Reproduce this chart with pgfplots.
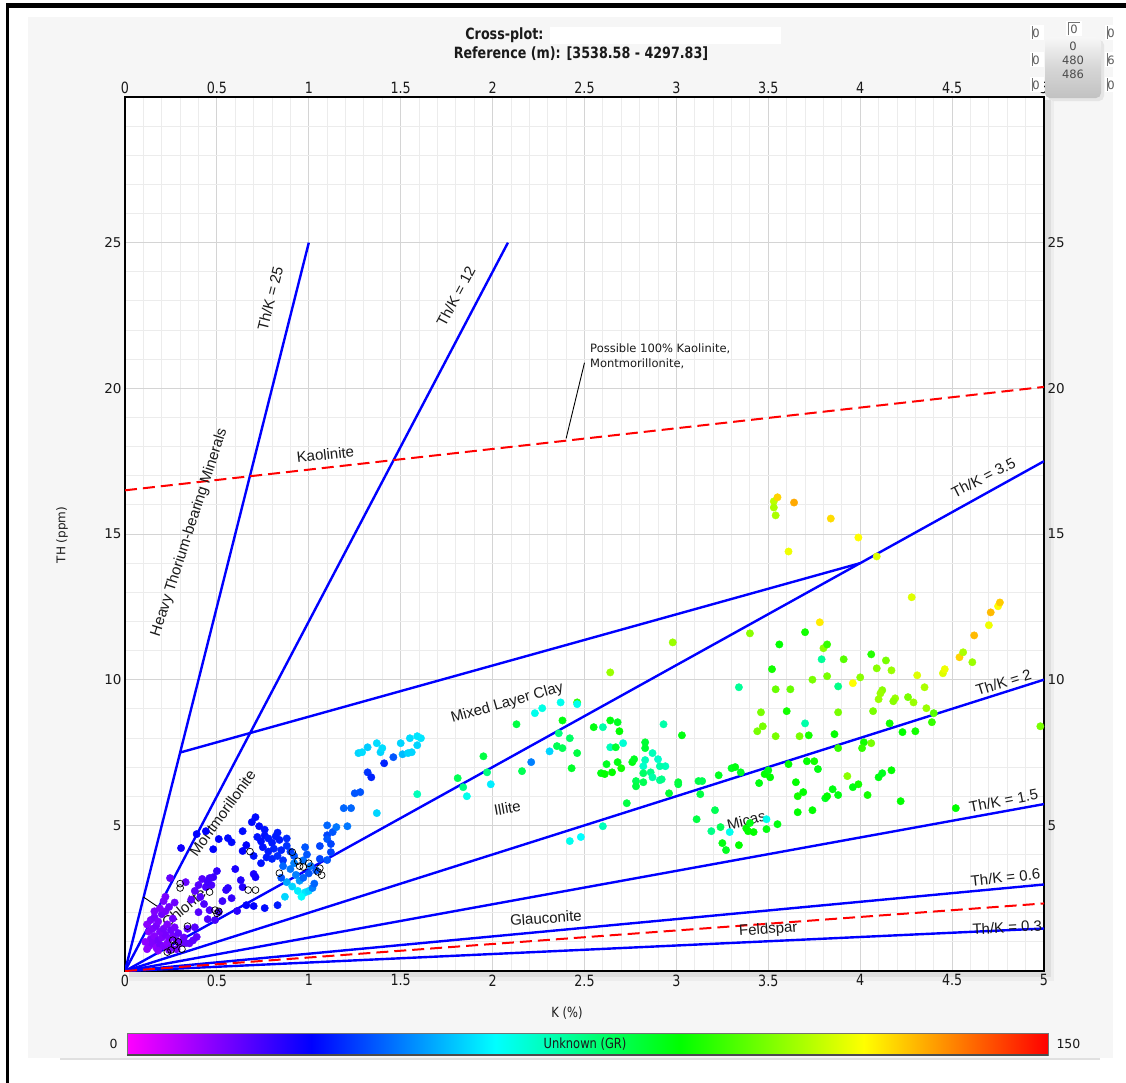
\documentclass[border=0pt]{standalone}
\usepackage{pgfplots}
\usepackage{pgfplotstable}
\pgfplotsset{compat=1.18}
\usepackage{fontspec}
\setmainfont{Liberation Sans}
\newfontfamily\djv{DejaVu Sans}
\newfontfamily\djvc[FakeStretch=0.82]{DejaVu Sans}

\definecolor{panel}{HTML}{F6F6F6}
\definecolor{gmaj}{HTML}{D4D4D4}
\definecolor{gmin}{HTML}{ECECEC}
\definecolor{lineblue}{HTML}{0000FF}
\definecolor{linered}{HTML}{FF0000}
\definecolor{txt}{HTML}{1A1A1A}
\definecolor{grm}{RGB}{255,0,255}
\definecolor{grb}{RGB}{0,0,255}
\definecolor{grc}{RGB}{0,255,255}
\definecolor{grg}{RGB}{0,255,0}
\definecolor{gry}{RGB}{255,255,0}
\definecolor{grr}{RGB}{255,0,0}

% GR colour scale, 0 -> 150 API
\pgfdeclarehorizontalshading{grbar}{100bp}{color(0bp)=(grm); color(25bp)=(grm);
  color(35bp)=(grb); color(45bp)=(grc); color(55bp)=(grg); color(65bp)=(gry);
  color(75bp)=(grr); color(100bp)=(grr)}

% K (%), Th (ppm), GR (API)
\pgfplotstableread{
k th gr
0.13 0.85 14
0.15 0.95 15
0.17 0.80 13
0.19 0.90 16
0.21 0.85 15
0.23 0.95 14
0.25 0.80 16
0.14 1.10 15
0.16 1.20 14
0.18 1.05 16
0.20 1.15 15
0.22 1.25 16
0.24 1.10 15
0.26 1.20 16
0.28 1.05 17
0.13 1.35 14
0.15 1.45 15
0.17 1.55 16
0.19 1.35 15
0.21 1.45 16
0.23 1.60 15
0.25 1.40 17
0.27 1.50 16
0.12 1.60 14
0.14 1.75 15
0.16 1.85 16
0.18 1.70 15
0.20 1.95 17
0.22 2.05 16
0.24 2.20 17
0.21 2.40 16
0.19 2.15 15
0.26 1.80 17
0.29 1.30 18
0.30 0.95 17
0.32 1.15 18
0.34 1.45 19
0.35 0.95 18
0.37 1.05 19
0.38 1.50 20
0.39 1.17 19
0.33 0.96 18
0.11 1.00 13
0.12 0.75 13
0.28 0.75 16
0.18 0.70 14
0.24 0.72 15
0.16 2.05 15
0.22 2.55 16
0.27 2.35 17
0.245 3.19 18
0.40 2.95 20
0.42 3.16 20
0.44 2.88 21
0.47 2.95 21
0.45 3.05 22
0.50 3.43 24
0.48 3.22 23
0.46 3.19 22
0.55 2.78 24
0.56 2.85 25
0.63 3.12 26
0.64 2.88 26
0.41 2.54 20
0.40 2.02 20
0.46 2.09 21
0.51 2.02 22
0.61 2.06 25
0.45 1.78 21
0.49 1.75 22
0.38 2.75 19
0.33 3.05 18
0.36 2.45 19
0.43 2.30 21
0.53 2.40 23
0.58 2.50 24
0.60 3.50 27
0.70 3.33 27
0.71 3.22 28
0.66 2.26 30
0.70 2.23 30
0.76 2.16 31
0.83 2.26 33
0.305 4.22 28
0.39 4.70 30
0.44 4.80 30
0.48 4.18 30
0.51 4.53 30
0.56 4.56 31
0.58 4.42 31
0.64 4.80 31
0.71 5.28 31
0.69 5.11 31
0.73 4.97 31
0.66 4.32 30
0.64 4.12 30
0.72 4.60 32
0.74 4.45 32
0.76 4.65 32
0.78 4.55 33
0.80 4.40 33
0.82 4.62 33
0.84 4.50 33
0.75 4.25 32
0.78 4.10 33
0.81 4.20 34
0.85 4.15 34
0.77 3.90 33
0.80 3.85 34
0.83 3.95 35
0.86 3.80 36
0.88 4.30 36
0.90 4.10 37
0.74 3.70 32
0.88 4.55 35
0.92 3.95 40
0.70 3.95 32
0.76 4.85 32
0.83 4.75 33
0.86 3.60 42
0.90 3.50 44
0.93 3.30 45
0.95 3.10 48
0.88 3.05 50
0.91 2.90 55
0.94 2.75 58
0.98 2.70 57
1.00 2.75 55
1.02 2.85 45
1.03 3.00 42
0.97 3.20 42
1.00 3.35 40
0.87 2.55 55
0.96 2.55 60
0.85 3.20 40
0.92 3.70 45
0.97 3.80 43
1.01 3.60 44
1.04 3.45 40
1.06 3.85 38
0.99 4.00 40
0.98 4.25 40
1.06 4.29 38
1.10 3.81 40
1.12 4.08 38
1.10 4.66 38
1.10 4.53 40
1.12 4.36 38
1.13 4.77 40
1.10 5.00 42
1.15 4.94 44
1.21 4.97 44
1.19 5.59 42
1.23 5.59 42
1.25 6.10 40
1.28 6.14 40
1.32 6.82 36
1.34 6.65 34
1.37 5.42 55
1.41 7.13 34
1.46 7.34 40
1.27 7.48 55
1.29 7.51 56
1.32 7.68 54
1.37 7.82 56
1.39 7.51 55
1.40 7.65 56
1.50 7.82 55
1.51 7.44 52
1.54 7.48 55
1.55 7.99 56
1.56 7.51 55
1.59 7.75 55
1.59 8.06 57
1.61 7.99 57
1.59 6.07 68
1.81 6.62 80
1.84 6.31 74
1.86 6.00 62
1.95 7.37 82
1.97 6.82 75
1.99 6.41 58
2.13 8.47 82
2.16 6.86 80
2.21 7.17 45
2.23 8.85 62
2.27 9.02 63
2.37 9.22 62
2.46 9.22 95
2.46 9.16 62
2.31 7.54 55
2.35 7.72 80
2.38 7.65 80
2.42 7.99 78
2.46 7.48 82
2.43 6.96 85
2.38 8.60 88
2.36 8.16 75
2.55 8.37 88
2.48 4.60 60
2.42 4.46 62
2.60 4.97 68
2.64 10.25 108
2.64 8.60 88
2.68 8.54 86
2.69 8.23 90
2.60 8.37 70
2.64 7.68 68
2.67 7.68 84
2.71 7.82 65
2.62 7.10 86
2.68 7.17 88
2.70 6.96 92
2.65 6.82 90
2.59 6.79 88
2.61 6.76 90
2.73 5.76 82
2.76 7.17 88
2.77 7.27 86
2.83 7.85 84
2.83 7.65 84
2.87 7.48 68
2.90 7.27 66
2.94 7.03 68
2.91 7.03 70
2.83 7.24 68
2.82 7.03 66
2.82 6.79 78
2.86 6.82 74
2.87 6.65 70
2.91 6.55 72
2.92 6.58 74
2.78 6.52 80
2.78 6.34 82
2.82 6.48 80
2.93 8.47 70
2.98 11.28 108
3.03 8.09 88
2.96 6.10 84
3.01 6.48 84
3.01 6.41 82
3.12 6.52 82
3.14 6.52 80
3.13 6.07 82
3.23 6.72 86
3.30 6.96 86
3.32 7.00 88
3.35 6.82 86
3.21 5.52 80
3.11 5.21 82
3.19 4.80 74
3.24 4.94 80
3.29 4.77 62
3.25 4.39 88
3.27 4.15 86
3.34 4.32 90
3.38 4.90 90
3.39 4.80 90
3.42 4.77 90
3.40 5.08 88
3.49 5.21 62
3.49 4.87 88
3.55 5.04 88
3.48 6.76 90
3.50 6.89 88
3.45 6.45 88
3.51 6.65 90
3.61 7.10 90
3.65 6.48 90
3.66 6.00 92
3.69 6.14 90
3.66 5.45 90
3.74 5.52 90
3.71 7.20 90
3.75 7.20 92
3.77 6.93 88
3.40 11.59 106
3.56 11.21 90
3.70 11.63 92
3.52 10.36 92
3.34 9.74 72
3.54 9.67 102
3.62 9.67 102
3.46 8.88 104
3.47 8.40 104
3.44 8.23 104
3.54 8.06 104
3.60 8.92 92
3.70 8.50 70
3.67 8.06 104
3.72 8.09 92
3.53 16.12 112
3.55 16.26 125
3.53 15.91 110
3.54 15.64 110
3.64 16.08 130
3.61 14.40 118
3.84 15.53 124
3.99 14.88 120
4.09 14.23 116
4.28 12.83 116
3.78 11.97 122
3.80 11.08 106
3.82 11.21 96
3.79 10.70 72
3.91 10.70 100
3.82 10.12 104
3.74 10.00 104
3.88 9.77 74
3.96 9.88 120
4.00 10.08 106
4.06 10.87 94
4.14 10.66 104
4.09 10.39 106
4.17 10.32 108
4.12 9.64 106
4.11 9.53 108
4.10 9.33 108
4.19 9.36 108
4.18 9.26 106
4.07 8.92 104
4.26 9.40 104
4.29 9.22 108
4.31 10.15 116
4.35 9.74 110
4.36 9.02 108
4.40 8.85 100
4.39 8.54 96
4.16 8.50 92
4.23 8.20 90
4.30 8.23 92
4.02 7.85 92
4.06 7.82 104
4.01 7.65 96
3.88 7.65 96
3.86 8.13 90
3.88 8.88 104
3.93 6.69 106
3.99 6.41 92
3.96 6.31 88
4.04 6.04 92
4.10 6.65 88
4.12 6.79 86
4.17 6.89 90
3.85 6.24 88
3.81 5.93 86
3.82 6.00 90
3.88 6.04 88
4.22 5.83 90
4.52 5.59 90
4.98 8.40 104
4.54 10.77 125
4.56 10.94 110
4.45 10.22 116
4.46 10.36 118
4.61 10.60 108
4.62 11.52 128
4.70 11.87 118
4.71 12.31 128
4.75 12.52 120
4.76 12.65 126
}\grpoints

% samples without a GR reading
\pgfplotstableread{
k th
0.30 3.00
0.30 2.85
0.46 2.71
0.49 2.09
0.50 1.98
0.51 2.05
0.68 4.10
0.67 2.78
0.71 2.78
0.84 3.36
0.91 4.08
0.94 3.77
0.95 3.60
0.97 3.57
1.00 3.70
1.05 3.40
1.07 3.29
1.06 3.53
0.34 1.54
0.26 1.06
0.29 1.00
0.27 0.89
0.31 0.75
0.25 0.72
0.23 0.65
}\nogr

\begin{document}
\begin{tikzpicture}
% ---------- page frame and panel ----------
\begin{scope}[x=1bp,y=-1bp]
  \fill[white] (0,0) rectangle (1126,1083);
  \fill[panel] (28,17) rectangle (1113,1058);
  \draw[black!12, line width=1.5bp] (60,1059) -- (1100,1059);
  \fill[black] (6,3) rectangle (1126,8);
  \fill[black] (6,3) rectangle (8.5,1083);
  % title block
  \node[font=\djvc\bfseries\fontsize{15.5bp}{17bp}\selectfont, text=txt, anchor=east] at (547,35) {Cross-plot:};
  \fill[white] (550,27) rectangle (781,44);
  \node[font=\djvc\bfseries\fontsize{15.5bp}{17bp}\selectfont, text=txt] at (581,54) {Reference (m): [3538.58 - 4297.83]};
  % drop shadow of the plot frame
  \fill[black!7] (129,101) rectangle (1054,981);
  \fill[black!13] (129,100) rectangle (1051,977);
  % axis titles
  \node[font=\djv\fontsize{12bp}{14bp}\selectfont, text=txt, rotate=90] at (62,535) {TH (ppm)};
  \node[font=\djvc\fontsize{14bp}{15bp}\selectfont, text=txt] at (567,1013) {K (\%)};
  % colour bar
  \shade[shading=grbar] (127,1033) rectangle (1048,1055);
  \draw[black!55, line width=0.8bp] (127,1033) rectangle (1048,1055);
  \draw[black!70, line width=1.2bp] (127,1055) -- (1048,1055);
  \node[font=\djvc\fontsize{14bp}{15bp}\selectfont, text=txt] at (585,1044) {Unknown (GR)};
  \node[font=\djv\fontsize{12.5bp}{14bp}\selectfont, text=txt, anchor=east] at (121,1044) {0};
  \node[font=\djv\fontsize{12.5bp}{14bp}\selectfont, text=txt, anchor=west] at (1053,1044) {150};
\end{scope}

% ---------- main cross-plot ----------
\begin{axis}[
  at={(125bp,-971bp)}, anchor=south west,
  scale only axis, width=919bp, height=874bp,
  xmin=0, xmax=5, ymin=0, ymax=30,
  xtick={0,0.5,...,5}, ytick={5,10,15,20,25},
  minor xtick={0,0.1,...,5}, minor ytick={0,1,...,30},
  grid=both,
  major grid style={gmaj, line width=0.9bp},
  minor grid style={gmin, line width=0.9bp},
  axis line style={black, line width=1.4bp},
  tick style={draw=none},
  axis background/.style={fill=white},
  /pgf/number format/assume math mode=true,
  xticklabel style={font=\djvc\fontsize{15.5bp}{17bp}\selectfont, text=txt},
  yticklabel style={font=\djv\fontsize{13.5bp}{15bp}\selectfont, text=txt},
  colormap={grmap}{rgb255=(255,0,255) rgb255=(0,0,255) rgb255=(0,255,255)
    rgb255=(0,255,0) rgb255=(255,255,0) rgb255=(255,0,0)},
  point meta min=0, point meta max=150,
]
% samples coloured by GR
\addplot[scatter, only marks, mark=*, mark size=3.7bp,
  scatter src=explicit,
  scatter/use mapped color={draw=mapped color, fill=mapped color}]
  table[x=k, y=th, meta=gr] {\grpoints};
\addplot[only marks, mark=o, mark size=3.4bp, black, line width=0.7bp,
  mark options={fill=white}] table[x=k, y=th] {\nogr};

% Th/K ratio lines
\addplot[lineblue, line width=2.4bp] coordinates {(0,0) (1,25)};
\addplot[lineblue, line width=2.4bp] coordinates {(0,0) (2.0833,25)};
\addplot[lineblue, line width=2.4bp] coordinates {(0,0) (5,17.5)};
\addplot[lineblue, line width=2.4bp] coordinates {(0,0) (5,10)};
\addplot[lineblue, line width=2.4bp] coordinates {(0,0) (5,5.73)};
\addplot[lineblue, line width=2.4bp] coordinates {(0,0) (5,2.97)};
\addplot[lineblue, line width=2.4bp] coordinates {(0,0) (5,1.46)};
\addplot[lineblue, line width=2.4bp] coordinates {(0.3,7.5) (4,14)};
% Kaolinite and Feldspar trends
\addplot[linered, line width=2bp, dash pattern=on 12bp off 6bp] coordinates {(0,16.5) (5,20.05)};
\addplot[linered, line width=2bp, dash pattern=on 12bp off 6bp] coordinates {(0,0) (5,2.32)};

% leader lines
\draw[black, line width=0.9bp] (axis cs:2.50,20.88) -- (axis cs:2.40,18.28);
\draw[black, line width=0.9bp] (axis cs:0.10,2.54) -- (axis cs:0.23,1.99);

% zone and ratio labels
\begin{scope}[every node/.style={font=\fontsize{15bp}{16bp}\selectfont, text=txt, inner sep=0pt}]
\node[rotate=76] at (axis cs:0.79,23.08) {Th/K = 25};
\node[rotate=62] at (axis cs:1.80,23.15) {Th/K = 12};
\node[rotate=6] at (axis cs:1.09,17.73) {Kaolinite};
\node[rotate=72] at (axis cs:0.35,15.05) {Heavy Thorium-bearing Minerals};
\node[rotate=27] at (axis cs:4.67,16.94) {Th/K = 3.5};
\node[rotate=17] at (axis cs:4.78,9.91) {Th/K = 2};
\node[rotate=11] at (axis cs:4.78,5.85) {Th/K = 1.5};
\node[rotate=6] at (axis cs:4.79,3.22) {Th/K = 0.6};
\node[rotate=3] at (axis cs:4.80,1.50) {Th/K = 0.3};
\node[rotate=16] at (axis cs:2.08,9.19) {Mixed Layer Clay};
\node[rotate=10] at (axis cs:2.08,5.59) {Illite};
\node[rotate=14] at (axis cs:3.38,5.18) {Micas};
\node[rotate=4] at (axis cs:2.29,1.82) {Glauconite};
\node[rotate=4] at (axis cs:3.50,1.41) {Feldspar};
\node[rotate=54] at (axis cs:0.53,5.42) {Montmorillonite};
\node[rotate=40] at (axis cs:0.32,2.16) {Chlorite};
\end{scope}
\node[anchor=north west, align=left, inner sep=0pt, text=txt,
  font=\djv\fontsize{11.5bp}{15bp}\selectfont] at (axis cs:2.53,21.55)
  {Possible 100\% Kaolinite,\\Montmorillonite,};
\end{axis}

% tick labels along the top and right edges
\begin{axis}[
  at={(125bp,-971bp)}, anchor=south west,
  scale only axis, width=919bp, height=874bp,
  xmin=0, xmax=5, ymin=0, ymax=30,
  xtick={0,0.5,...,5}, ytick={5,10,15,20,25},
  xticklabel pos=upper, yticklabel pos=right,
  axis line style={draw=none}, tick style={draw=none},
  /pgf/number format/assume math mode=true,
  xticklabel style={font=\djvc\fontsize{15.5bp}{17bp}\selectfont, text=txt},
  yticklabel style={font=\djv\fontsize{13.5bp}{15bp}\selectfont, text=txt},
]
\end{axis}

% ---------- depth range selector ----------
\begin{scope}[x=1bp,y=-1bp, font=\djv\fontsize{11.5bp}{12bp}\selectfont]
  \foreach \xx/\yy/\t in {1036/33/0, 1111/33/0, 1036/60/0, 1111/60/6, 1036/85/0, 1111/85/0}{
    \fill[white] (\xx-6,\yy-8) rectangle (\xx+8,\yy+7);
    \draw[black!55, line width=0.7bp] (\xx-4,\yy-7) -- (\xx-4,\yy+6);
    \node[text=black!65] at (\xx,\yy) {\t};
  }
  \foreach \yy in {29,89}{
    \fill[white] (1066,\yy-8) rectangle (1082,\yy+7);
    \draw[black!55, line width=0.7bp] (1068,\yy+6) -- (1068,\yy-7) -- (1080,\yy-7);
    \node[text=black!65] at (1074,\yy) {0};
  }
  \fill[black!10, rounded corners=5bp] (1048,40) rectangle (1104,101);
  \shade[top color=black!3, bottom color=black!24, middle color=black!16, rounded corners=5bp]
    (1045,37) rectangle (1101,98);
  \node[text=black!70] at (1073,46) {0};
  \node[text=black!70] at (1073,60) {480};
  \node[text=black!70] at (1073,74) {486};
\end{scope}
\end{tikzpicture}
\end{document}
